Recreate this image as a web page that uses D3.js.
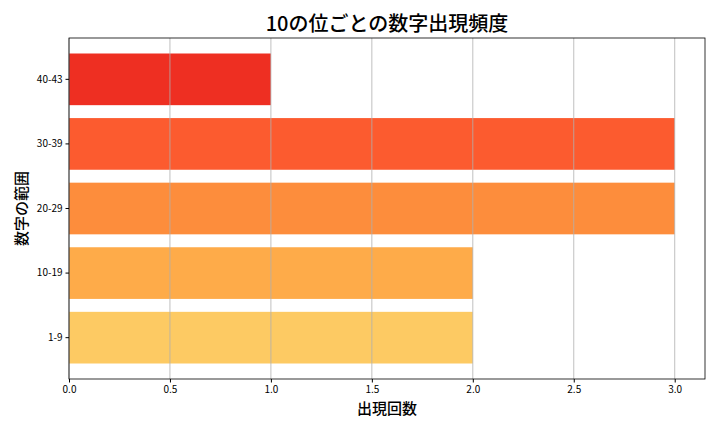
<!DOCTYPE html>
<html>
<head>
<meta charset="utf-8">
<script src="https://cdn.jsdelivr.net/npm/d3@7"></script>
<style>
  body { margin: 0; background: #fff; }
  text { font-family: "Noto Sans CJK JP", "Noto Sans", sans-serif; }
</style>
</head>
<body>
<script>
var w = 720, h = 432;

// data (bottom to top)
var ranges = ["1-9", "10-19", "20-29", "30-39", "40-43"];
var counts = [2, 2, 3, 3, 1];
var colors = ["#fdca63", "#feab49", "#fd8d3c", "#fc5b2f", "#ee2f22"];
var xTicks = [0, 0.5, 1.0, 1.5, 2.0, 2.5, 3.0];

var margin = {left: 69, right: 15, top: 38, bottom: 53};

var svg = d3.select("body")
	.append("svg")
	.attr("width", w)
	.attr("height", h);

var xScale = d3.scaleLinear()
	.domain([0, 3.15])
	.range([margin.left, w - margin.right]);

var yScale = d3.scaleBand()
	.domain(ranges.slice().reverse())
	.range([margin.top, h - margin.bottom])
	.paddingInner(0.2)
	.paddingOuter(0.24);

var data = ranges.map((r, i) => ({range: r, count: counts[i], color: colors[i]}));

svg.selectAll("rect.bar")
	.data(data)
	.enter()
	.append("rect")
	.attr("class", "bar")
	.attr("x", xScale(0))
	.attr("y", d => yScale(d.range))
	.attr("width", d => xScale(d.count) - xScale(0))
	.attr("height", yScale.bandwidth())
	.attr("fill", d => d.color);

// vertical grid on top of bars
svg.append("g")
	.selectAll("line")
	.data(xTicks)
	.enter()
	.append("line")
	.attr("x1", d => xScale(d))
	.attr("x2", d => xScale(d))
	.attr("y1", margin.top)
	.attr("y2", h - margin.bottom)
	.attr("stroke", "#b0b0b0")
	.attr("stroke-width", 0.8);

var xAxis = d3.axisBottom(xScale)
	.tickValues(xTicks)
	.tickFormat(d3.format(".1f"))
	.tickSize(3.5)
	.tickPadding(3);

svg.append("g")
	.attr("transform", `translate(0, ${h - margin.bottom})`)
	.call(xAxis)
	.call(g => g.select(".domain").remove())
	.selectAll("text")
	.attr("font-size", "10px")
	.attr("fill", "#000")
	.style("font-family", "'Noto Sans CJK JP', sans-serif");

var yAxis = d3.axisLeft(yScale)
	.tickSize(3.5)
	.tickPadding(3);

svg.append("g")
	.attr("transform", `translate(${margin.left}, 0)`)
	.call(yAxis)
	.call(g => g.select(".domain").remove())
	.selectAll("text")
	.attr("font-size", "10px")
	.attr("fill", "#000")
	.style("font-family", "'Noto Sans CJK JP', sans-serif");

// frame
svg.append("rect")
	.attr("x", margin.left)
	.attr("y", margin.top)
	.attr("width", w - margin.right - margin.left)
	.attr("height", h - margin.bottom - margin.top)
	.attr("fill", "none")
	.attr("stroke", "#000")
	.attr("stroke-width", 0.8);

var cx = (margin.left + w - margin.right) / 2;

svg.append("text")
	.attr("x", cx)
	.attr("y", 31)
	.attr("text-anchor", "middle")
	.attr("font-size", "20px")
	.attr("font-weight", 500)
	.text("10の位ごとの数字出現頻度");

svg.append("text")
	.attr("x", cx)
	.attr("y", 414)
	.attr("text-anchor", "middle")
	.attr("font-size", "15px")
	.attr("font-weight", 500)
	.text("出現回数");

svg.append("text")
	.attr("transform", `translate(27, ${(margin.top + h - margin.bottom) / 2}) rotate(-90)`)
	.attr("text-anchor", "middle")
	.attr("font-size", "15px")
	.attr("font-weight", 500)
	.text("数字の範囲");
</script>
</body>
</html>
